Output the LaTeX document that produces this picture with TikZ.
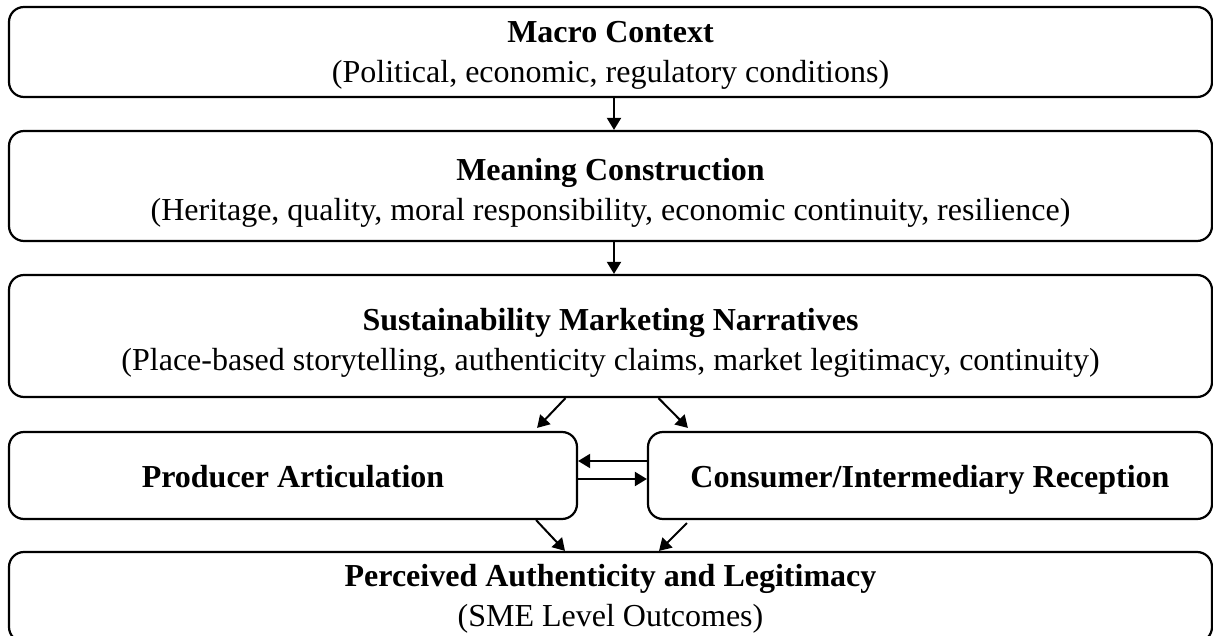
\documentclass[tikz,border=0pt]{standalone}
\usepackage{fontspec}
\setmainfont{Liberation Serif}
\usetikzlibrary{arrows.meta,calc}
\newcommand{\boxtitle}[1]{{\bfseries #1}}
\begin{document}
\begin{tikzpicture}[x=1pt, y=-1pt, >={Triangle[length=12pt,width=14pt]},
  stage/.style={draw, line width=2.2pt, rounded corners=15pt, inner sep=0pt},
  caption/.style={align=center, inner sep=0pt, font=\fontsize{32}{40}\selectfont},
  link/.style={->, line width=2pt}]
 \useasboundingbox (0,0) rectangle (1213,636);
 \node[stage, minimum width=1203pt, minimum height=90pt] (macro) at (610.5,52) {};
 \node[stage, minimum width=1203pt, minimum height=110pt] (meaning) at (610.5,186) {};
 \node[stage, minimum width=1203pt, minimum height=122pt] (narr) at (610.5,336) {};
 \node[stage, minimum width=568pt, minimum height=87pt] (prod) at (293,475.5) {};
 \node[stage, minimum width=564pt, minimum height=87pt] (cons) at (930,475.5) {};
 \node[stage, minimum width=1203pt, minimum height=90pt] (outc) at (610.5,597) {};
 \node[caption] (macro-t) at ([yshift=-3pt]macro.center)
  {\boxtitle{Macro Context}\\(Political, economic, regulatory conditions)};
 \node[caption] (meaning-t) at ([yshift=-7pt]meaning.center)
  {\boxtitle{Meaning Construction}\\(Heritage, quality, moral responsibility, economic continuity, resilience)};
 \node[caption] (narr-t) at ([yshift=-7pt]narr.center)
  {\boxtitle{Sustainability Marketing Narratives}\\(Place-based storytelling, authenticity claims, market legitimacy, continuity)};
 \node[caption, text height=22pt, text depth=7pt] (prod-t) at ([yshift=-4pt]prod.center) {\boxtitle{Producer Articulation}};
 \node[caption, text height=22pt, text depth=7pt] (cons-t) at ([yshift=-4pt]cons.center) {\boxtitle{Consumer/Intermediary Reception}};
 \node[caption] (outc-t) at ([yshift=-2pt]outc.center)
  {\boxtitle{Perceived Authenticity and Legitimacy}\\(SME Level Outcomes)};
 \draw[link] ([xshift=3.5pt]macro.south) -- ([xshift=3.5pt]meaning.north);
 \draw[link] ([xshift=3.5pt]meaning.south) -- ([xshift=3.5pt]narr.north);
 \draw[link] ([xshift=-45pt]narr.south) -- ([xshift=-41pt,yshift=3pt]prod.north east);
 \draw[link] ([xshift=48pt]narr.south) -- ([xshift=41pt,yshift=3pt]cons.north west);
 \draw[link] ([yshift=14.5pt]cons.west) -- ([yshift=14.5pt]prod.east);
 \draw[link] ([yshift=-3.5pt]prod.east) -- ([yshift=-3.5pt]cons.west);
 \draw[link] ([xshift=-42pt]prod.south east) -- ([xshift=-45.5pt]outc.north);
 \draw[link] ([xshift=40pt,yshift=-3pt]cons.south west) -- ([xshift=48.5pt]outc.north);
\end{tikzpicture}
\end{document}
